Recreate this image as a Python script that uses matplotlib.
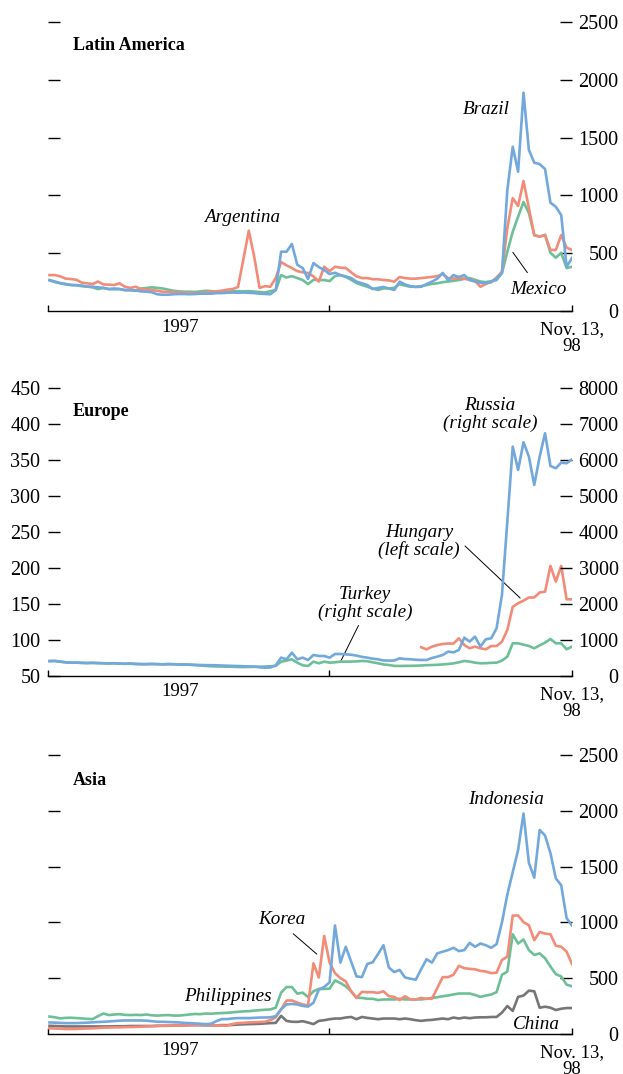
import numpy as np
import pandas as pd
import matplotlib
matplotlib.use("Agg")
import matplotlib.pyplot as plt

# weekly observations, Jan 3 1997 .. Nov 13 1998
weeks = pd.date_range("1997-01-03", periods=98, freq="7D")

# ---- Latin America (basis points) ----
argentina = [311, 311, 300, 280, 277, 270, 245, 240, 233, 255,
             230, 228, 225, 240, 210, 200, 210, 190, 185, 182,
             175, 167, 165, 162, 160, 158, 156, 155, 156, 160,
             165, 170, 176, 185, 190, 208, 450, 695, 470, 200,
             215, 210, 285, 424, 395, 372, 345, 335, 329, 300,
             255, 383, 345, 383, 375, 372, 335, 300, 285, 285,
             275, 275, 268, 265, 254, 294, 285, 280, 280, 285,
             290, 295, 302, 320, 285, 280, 285, 280, 270, 260,
             210, 235, 250, 290, 340, 718, 977, 908, 1124, 891,
             657, 643, 657, 528, 528, 657, 548, 528]
brazil = [268, 255, 242, 235, 225, 225, 220, 210, 210, 205,
          200, 190, 195, 190, 181, 181, 178, 170, 167, 163,
          145, 141, 141, 145, 147, 147, 145, 147, 150, 150,
          150, 155, 155, 158, 160, 158, 160, 158, 155, 150,
          148, 145, 182, 513, 513, 580, 400, 372, 277, 415,
          380, 355, 320, 331, 311, 300, 285, 254, 240, 225,
          190, 200, 208, 195, 182, 254, 230, 215, 208, 210,
          233, 254, 280, 329, 268, 311, 294, 311, 268, 255,
          245, 243, 250, 280, 329, 1047, 1421, 1205, 1888, 1393,
          1283, 1271, 1228, 937, 902, 830, 383, 458]
mexico = [265, 250, 240, 230, 225, 222, 215, 212, 205, 190,
          200, 190, 188, 190, 181, 180, 175, 195, 199, 205,
          200, 195, 185, 175, 170, 167, 167, 165, 170, 175,
          172, 168, 165, 168, 170, 172, 170, 172, 168, 165,
          160, 172, 180, 311, 290, 302, 285, 268, 233, 270,
          268, 268, 259, 302, 311, 295, 270, 242, 225, 210,
          195, 182, 196, 196, 200, 233, 220, 210, 210, 215,
          225, 235, 240, 250, 255, 262, 268, 278, 285, 270,
          255, 250, 258, 268, 329, 513, 686, 816, 943, 848,
          657, 643, 660, 504, 461, 504, 372, 383]

# ---- Europe ----
russia = [417, 420, 400, 380, 370, 372, 365, 360, 365, 360,
          355, 350, 355, 345, 340, 345, 335, 330, 330, 335,
          330, 325, 330, 328, 320, 320, 315, 310, 305, 300,
          300, 296, 290, 285, 280, 275, 270, 265, 262, 240,
          231, 235, 296, 509, 463, 648, 463, 509, 444, 583,
          555, 555, 509, 611, 611, 600, 590, 565, 530, 509,
          480, 463, 430, 426, 430, 490, 470, 465, 450, 444,
          444, 500, 537, 583, 676, 657, 722, 1065, 954, 1093,
          815, 1019, 1046, 1324, 2250, 4300, 6370, 5722, 6491, 6093,
          5306, 6093, 6741, 5833, 5769, 5926, 5907, 6019]
turkey = [410, 415, 395, 378, 368, 370, 362, 358, 362, 356,
          352, 348, 352, 342, 338, 342, 332, 328, 328, 332,
          327, 322, 328, 325, 318, 316, 312, 300, 290, 280,
          270, 265, 262, 258, 255, 250, 248, 250, 255, 258,
          262, 270, 280, 398, 426, 463, 370, 296, 278, 398,
          352, 398, 370, 380, 398, 398, 400, 405, 417, 410,
          380, 352, 320, 305, 280, 278, 280, 282, 285, 290,
          300, 305, 310, 320, 333, 350, 380, 417, 400, 370,
          352, 355, 365, 370, 426, 537, 907, 907, 870, 833,
          769, 850, 926, 1028, 907, 907, 741, 815]
hungary_first_week = 69
hungary = [89.9, 87, 90.7, 93, 94.4, 95, 95, 102.3, 93, 88.5,
           90.7, 88.5, 87, 91.6, 91.6, 97.7, 114, 146, 151, 154.6,
           159, 159, 166, 167, 202.8, 181, 202.8, 156.5, 156.5]

# ---- Asia ----
philippines = [157, 150, 140, 145, 146, 143, 140, 136, 134, 160,
               184, 170, 175, 178, 172, 170, 172, 170, 175, 168,
               165, 168, 170, 166, 165, 170, 175, 180, 178, 184,
               182, 186, 188, 190, 195, 199, 203, 205, 210, 214,
               218, 220, 237, 371, 421, 421, 362, 371, 332, 383,
               404, 404, 407, 481, 457, 428, 383, 324, 324, 316,
               316, 304, 310, 310, 310, 316, 310, 310, 310, 310,
               316, 324, 330, 339, 345, 355, 363, 363, 363, 350,
               333, 345, 354, 375, 531, 560, 894, 811, 847, 752,
               708, 723, 679, 605, 537, 516, 443, 428]
indonesia = [104, 102, 100, 98, 98, 98, 100, 102, 105, 108,
             110, 113, 116, 120, 122, 122, 122, 122, 120, 115,
             110, 110, 108, 106, 104, 100, 98, 95, 92, 89,
             92, 116, 134, 134, 140, 143, 143, 143, 145, 148,
             148, 150, 160, 222, 265, 270, 265, 252, 246, 280,
             398, 422, 463, 973, 640, 782, 649, 516, 510, 628,
             643, 717, 796, 596, 555, 575, 507, 496, 487, 581,
             670, 640, 723, 738, 752, 773, 743, 752, 817, 782,
             811, 796, 773, 805, 1000, 1250, 1450, 1650, 1976, 1534,
             1401, 1829, 1779, 1622, 1395, 1333, 1038, 974]
korea = [51, 50, 48, 45, 45, 46, 48, 50, 51, 54,
         57, 58, 60, 60, 62, 63, 64, 66, 68, 70,
         72, 75, 75, 76, 76, 78, 78, 80, 80, 80,
         80, 78, 76, 75, 90, 98, 100, 104, 106, 108,
         110, 125, 150, 222, 300, 301, 282, 265, 258, 634,
         507, 879, 640, 546, 501, 472, 383, 324, 378, 375,
         375, 369, 383, 339, 333, 304, 339, 310, 310, 324,
         316, 316, 413, 510, 510, 531, 611, 590, 584, 580,
         566, 560, 546, 550, 664, 693, 1062, 1062, 1003, 974,
         841, 915, 900, 894, 791, 782, 738, 628]
china = [74, 72, 70, 68, 68, 68, 68, 68, 68, 68,
         68, 68, 70, 70, 70, 72, 72, 72, 72, 72,
         74, 74, 74, 76, 76, 78, 80, 80, 80, 78,
         78, 78, 80, 80, 82, 85, 87, 89, 90, 92,
         95, 98, 100, 163, 118, 110, 109, 115, 103, 89,
         118, 124, 133, 139, 139, 148, 153, 133, 153, 145,
         139, 133, 139, 139, 139, 133, 139, 133, 124, 118,
         124, 127, 133, 139, 133, 148, 139, 148, 142, 148,
         150, 150, 153, 153, 192, 251, 207, 333, 345, 389,
         383, 236, 245, 236, 215, 227, 233, 233]

BLUE = "#72a8dc"
RED = "#f28b78"
GREEN = "#6dbf97"
GRAY = "#767676"
LW = 1.9

plt.rcParams["font.family"] = ["Liberation Serif", "DejaVu Serif"]

fig = plt.figure(figsize=(6.23, 10.74), dpi=100)
x0, w = 0.077, 0.8411
x_start = pd.Timestamp("1997-01-01")
x_mid = pd.Timestamp("1998-01-01")
x_end = pd.Timestamp("1998-11-13")

title_y = {"Latin America": 0.920, "Europe": 0.917, "Asia": 0.910}


def setup_panel(rect, title, right_ticks, left_ticks, left_labels, ylim_l, ylim_r):
    ax = fig.add_axes(rect)
    ax2 = ax.twinx()
    for a in (ax, ax2):
        for s in ("top", "right", "left"):
            a.spines[s].set_visible(False)
        a.set_xlim(x_start, x_end)
    ax2.spines["bottom"].set_visible(False)
    ax.spines["bottom"].set_linewidth(1.0)
    ax.set_ylim(*ylim_l)
    ax2.set_ylim(*ylim_r)
    ax.set_xticks([x_start, x_mid, x_end])
    ax.set_xticklabels([])
    ax.tick_params(axis="x", direction="in", length=4.5, width=1.0)
    ax.set_yticks(left_ticks)
    if left_labels:
        ax.set_yticklabels([f"{v:g}" for v in left_ticks])
    else:
        ax.set_yticklabels([])
    ax.tick_params(axis="y", direction="in", length=8.6, width=1.0,
                   labelsize=14.5, pad=5.5)
    ax2.set_yticks(right_ticks)
    ax2.set_yticklabels([f"{v:g}" for v in right_ticks], ha="right")
    ax2.tick_params(axis="y", direction="in", length=8.6, width=1.0,
                    labelsize=14.5, pad=33.5)
    ax.text(0.048, title_y[title], title, transform=ax.transAxes,
            fontsize=13, fontweight="bold", va="center", ha="left")
    ax.annotate("1997", xy=(0.252, 0), xycoords="axes fraction",
                xytext=(0, -16), textcoords="offset pixels",
                ha="center", va="center", fontsize=13.5)
    ax.annotate("Nov. 13,\n98", xy=(1.0, 0), xycoords="axes fraction",
                xytext=(0, -10), textcoords="offset pixels",
                ha="center", va="top", fontsize=13.5, linespacing=1.0)
    return ax, ax2


def label(ax, x, y, s):
    ax.text(x, y, s, transform=ax.transAxes, fontsize=13.8, style="italic",
            ha="center", va="center", linespacing=1.0)


def leader(ax, p0, p1):
    ax.annotate("", xy=p1, xycoords="axes fraction", xytext=p0,
                textcoords="axes fraction",
                arrowprops=dict(arrowstyle="-", color="black", lw=0.7))


# Latin America
ax, ax2 = setup_panel([x0, 0.7104, w, 0.2691], "Latin America",
                      [0, 500, 1000, 1500, 2000, 2500],
                      [500, 1000, 1500, 2000, 2500], False,
                      (0, 2500), (0, 2500))
ax2.plot(weeks, mexico, color=GREEN, lw=LW)
ax2.plot(weeks, argentina, color=RED, lw=LW)
ax2.plot(weeks, brazil, color=BLUE, lw=LW)
label(ax, 0.836, 0.696, "Brazil")
label(ax, 0.370, 0.325, "Argentina")
label(ax, 0.935, 0.076, "Mexico")
leader(ax, (0.884, 0.211), (0.918, 0.125))

# Europe
ax, ax2 = setup_panel([x0, 0.3706, w, 0.2682], "Europe",
                      [0, 1000, 2000, 3000, 4000, 5000, 6000, 7000, 8000],
                      [50, 100, 150, 200, 250, 300, 350, 400, 450], True,
                      (50, 450), (0, 8000))
ax2.plot(weeks, turkey, color=GREEN, lw=LW)
ax.plot(weeks[hungary_first_week:], hungary, color=RED, lw=LW)
ax2.plot(weeks, russia, color=BLUE, lw=LW)
label(ax, 0.844, 0.908, "Russia\n(right scale)")
label(ax, 0.708, 0.467, "Hungary\n(left scale)")
leader(ax, (0.792, 0.458), (0.905, 0.264))
label(ax, 0.605, 0.252, "Turkey\n(right scale)")
leader(ax, (0.595, 0.184), (0.557, 0.045))

# Asia
ax, ax2 = setup_panel([x0, 0.0372, w, 0.2598], "Asia",
                      [0, 500, 1000, 1500, 2000, 2500],
                      [500, 1000, 1500, 2000, 2500], False,
                      (0, 2500), (0, 2500))
ax2.plot(weeks, china, color=GRAY, lw=LW)
ax2.plot(weeks, philippines, color=GREEN, lw=LW)
ax2.plot(weeks, korea, color=RED, lw=LW)
ax2.plot(weeks, indonesia, color=BLUE, lw=LW)
label(ax, 0.874, 0.839, "Indonesia")
label(ax, 0.447, 0.409, "Korea")
leader(ax, (0.464, 0.366), (0.517, 0.280))
label(ax, 0.344, 0.136, "Philippines")
label(ax, 0.933, 0.036, "China")

fig.savefig("out.png", dpi=100)
